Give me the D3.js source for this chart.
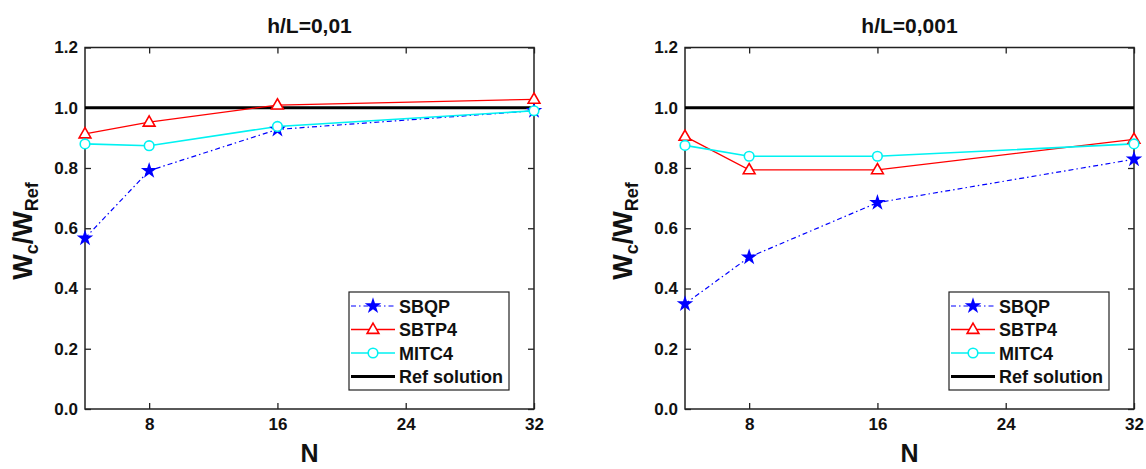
<!DOCTYPE html>
<html>
<head>
<meta charset="utf-8">
<script src="https://cdn.jsdelivr.net/npm/d3@7"></script>
<style>
  body { margin: 0; background: #fff; }
  svg text { font-family: Arial, "Liberation Sans", sans-serif; font-weight: bold; }
</style>
</head>
<body>
<svg id="chart" width="1146" height="469"></svg>
<script>
// values
const nValues = [4, 8, 16, 32];
const xTicks = [8, 16, 24, 32];
const yTicks = [0, 0.2, 0.4, 0.6, 0.8, 1.0, 1.2];
const titles = ['h/L=0,01', 'h/L=0,001'];

const sbqp01 = [0.567, 0.791, 0.928, 0.990];
const sbtp401 = [0.913, 0.952, 1.009, 1.028];
const mitc401 = [0.880, 0.874, 0.938, 0.990];

const sbqp001 = [0.349, 0.504, 0.685, 0.829];
const sbtp4001 = [0.905, 0.794, 0.794, 0.895];
const mitc4001 = [0.875, 0.839, 0.839, 0.880];

const refValue = 1.0;
const legendNames = ['SBQP', 'SBTP4', 'MITC4', 'Ref solution'];

const panels = [
  { title: titles[0], left: 85, series: [sbqp01, sbtp401, mitc401] },
  { title: titles[1], left: 685, series: [sbqp001, sbtp4001, mitc4001] }
];

const styles = [
  { color: '#0000ff', dash: '5,3,1.5,3', marker: 'star', width: 1.2 },
  { color: '#ff0000', dash: null, marker: 'triangle', width: 1.3 },
  { color: '#00f2f2', dash: null, marker: 'circle', width: 1.6 },
  { color: '#000000', dash: null, marker: null, width: 2.8 }
];

const svg = d3.select('#chart');
const plotW = 449;
const plotTop = 47.5, plotBottom = 409;

function drawMarker(g, type, color, x, y) {
  if (type === 'star') {
    g.append('path')
      .attr('d', d3.symbol().type(d3.symbolStar).size(85)())
      .attr('transform', `translate(${x},${y})`)
      .attr('fill', color);
  } else if (type === 'triangle') {
    g.append('path')
      .attr('d', d3.symbol().type(d3.symbolTriangle).size(60)())
      .attr('transform', `translate(${x},${y + 0.5})`)
      .attr('fill', '#fff')
      .attr('stroke', color)
      .attr('stroke-width', 1.6);
  } else if (type === 'circle') {
    g.append('circle')
      .attr('cx', x).attr('cy', y).attr('r', 4.8)
      .attr('fill', '#fff')
      .attr('stroke', color)
      .attr('stroke-width', 1.6);
  }
}

panels.forEach((p) => {
  const x = d3.scaleLinear().domain([4, 32]).range([p.left, p.left + plotW]);
  const y = d3.scaleLinear().domain([0, 1.2]).range([plotBottom, plotTop]);
  const g = svg.append('g');

  // frame
  g.append('rect')
    .attr('x', x(4)).attr('y', y(1.2))
    .attr('width', plotW).attr('height', plotBottom - plotTop)
    .attr('fill', 'none').attr('stroke', '#222').attr('stroke-width', 1.5);

  // axes with inward ticks
  const xAxisB = d3.axisBottom(x).tickValues(xTicks).tickSize(-6).tickPadding(9).tickFormat(d3.format('d'));
  const xAxisT = d3.axisTop(x).tickValues(xTicks).tickSize(-6).tickFormat('');
  const yAxisL = d3.axisLeft(y).tickValues(yTicks).tickSize(-6).tickPadding(7).tickFormat(d3.format('.1f'));
  const yAxisR = d3.axisRight(y).tickValues(yTicks).tickSize(-6).tickFormat('');

  [[xAxisB, `translate(0,${plotBottom})`], [xAxisT, `translate(0,${plotTop})`],
   [yAxisL, `translate(${x(4)},0)`], [yAxisR, `translate(${x(32)},0)`]].forEach(([ax, tr]) => {
    const a = g.append('g').attr('transform', tr).call(ax);
    a.select('.domain').remove();
    a.selectAll('line').attr('stroke', '#222').attr('stroke-width', 1.3);
    a.selectAll('text').attr('font-size', 17).attr('fill', '#111')
      .style('font-family', 'Arial, "Liberation Sans", sans-serif').style('font-weight', 'bold');
  });

  // reference line
  g.append('line')
    .attr('x1', x(4)).attr('x2', x(32))
    .attr('y1', y(refValue)).attr('y2', y(refValue))
    .attr('stroke', styles[3].color).attr('stroke-width', styles[3].width);

  const line = d3.line().x((d, i) => x(nValues[i])).y((d) => y(d));

  p.series.forEach((vals, si) => {
    const st = styles[si];
    g.append('path')
      .attr('d', line(vals))
      .attr('fill', 'none')
      .attr('stroke', st.color)
      .attr('stroke-width', st.width)
      .attr('stroke-dasharray', st.dash);
  });
  // markers on top, in drawing order
  p.series.forEach((vals, si) => {
    vals.forEach((v, i) => drawMarker(g, styles[si].marker, styles[si].color, x(nValues[i]), y(v)));
  });

  // title
  g.append('text')
    .attr('x', x(18)).attr('y', 33)
    .attr('text-anchor', 'middle').attr('font-size', 21).attr('fill', '#111')
    .text(p.title);

  // axis labels
  g.append('text')
    .attr('x', x(18)).attr('y', 462)
    .attr('text-anchor', 'middle').attr('font-size', 25).attr('fill', '#111')
    .text('N');

  const yl = g.append('text')
    .attr('transform', `translate(${p.left - 53},231) rotate(-90)`)
    .attr('text-anchor', 'middle').attr('font-size', 27).attr('fill', '#111');
  yl.append('tspan').text('W');
  yl.append('tspan').attr('font-size', 18).attr('dy', 6).text('c');
  yl.append('tspan').attr('dy', -6).text('/W');
  yl.append('tspan').attr('font-size', 18).attr('dy', 6).text('Ref');

  // legend
  const lx = x(32) - 185, ly = 292;
  const lg = g.append('g');
  lg.append('rect')
    .attr('x', lx).attr('y', ly).attr('width', 160).attr('height', 98)
    .attr('fill', '#fff').attr('stroke', '#222').attr('stroke-width', 1.2);
  legendNames.forEach((name, i) => {
    const st = styles[i];
    const cy = ly + 14 + i * 23.5;
    lg.append('line')
      .attr('x1', lx + 2).attr('x2', lx + 46).attr('y1', cy).attr('y2', cy)
      .attr('stroke', st.color).attr('stroke-width', i === 3 ? 2.8 : st.width)
      .attr('stroke-dasharray', st.dash);
    drawMarker(lg, st.marker, st.color, lx + 24, cy);
    lg.append('text')
      .attr('x', lx + 50).attr('y', cy + 6.5)
      .attr('font-size', 18).attr('fill', '#111')
      .text(name);
  });
});
</script>
</body>
</html>
